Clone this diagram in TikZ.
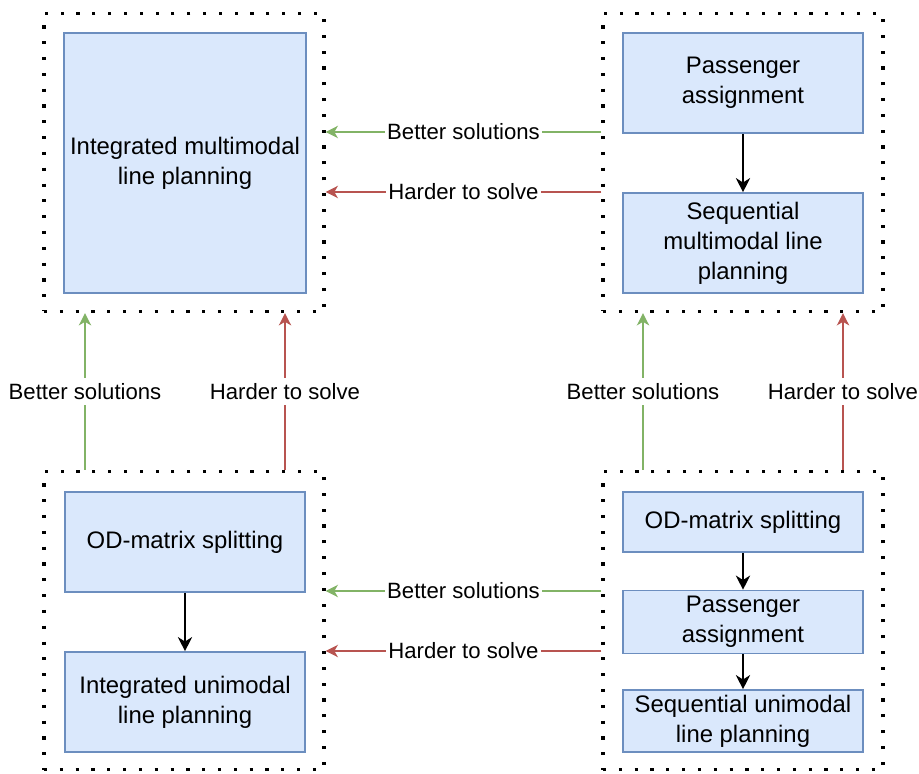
\documentclass[tikz,border=0pt]{standalone}
\usepackage{fontspec}
\setmainfont{Liberation Sans}
\usepackage{xcolor}
\usepackage{tikz}
\usetikzlibrary{shapes,arrows,arrows.meta,positioning,calc}
\definecolor{boxfill}{HTML}{DAE8FC}
\definecolor{boxline}{HTML}{6C8EBF}
\definecolor{goodgreen}{HTML}{82B366}
\definecolor{hardred}{HTML}{B85450}

\begin{document}
\begin{tikzpicture}[
  font=\fontsize{12.6}{16}\selectfont,
  group/.style={draw, line width=1.8pt, dash pattern=on 1.8pt off 7.2pt, minimum width=5.6cm, minimum height=5.96cm},
  stage/.style={draw=boxline, fill=boxfill, line width=0.9pt, minimum width=4.8cm, align=center, font=\fontsize{13.6}{17}\selectfont},
  better/.style={draw=goodgreen, line width=0.9pt, -{Stealth[length=7pt,width=7pt,inset=2pt,fill=goodgreen]}},
  harder/.style={draw=hardred, line width=0.9pt, -{Stealth[length=7pt,width=7pt,inset=2pt,fill=hardred]}},
  flow/.style={line width=1.4pt, -{Stealth[length=8pt,width=8pt,inset=2.5pt]}},
  lbl/.style={fill=white, inner sep=1.5pt}
]
  \useasboundingbox (0,0) rectangle (18.38,15.46);

  % Groups
  \node[group] (tl) at (3.68,12.21) {};
  \node[group] (tr) at (14.86,12.21) {};
  \node[group] (bl) at (3.68,3.05) {};
  \node[group] (br) at (14.86,3.05) {};

  % Integrated multimodal
  \node[stage, minimum height=5.2cm] (intmulti) at (3.70,12.2) {Integrated multimodal\\line planning};

  % Sequential multimodal
  \node[stage, minimum height=2cm] (passtop) at (14.86,13.8) {Passenger\\assignment};
  \node[stage, minimum height=2cm] (seqmulti) at (14.86,10.6) {Sequential\\multimodal line\\planning};
  \draw[flow] (passtop) -- (seqmulti);

  % Integrated unimodal
  \node[stage, minimum height=2cm] (odleft) at (3.70,4.62) {OD-matrix splitting};
  \node[stage, minimum height=2cm] (intuni) at (3.70,1.42) {Integrated unimodal\\line planning};
  \draw[flow] (odleft) -- (intuni);

  % Sequential unimodal
  \node[stage, minimum height=1.2cm] (odright) at (14.86,5.02) {OD-matrix splitting};
  \node[stage, minimum height=1.2cm] (passbot) at (14.86,3.02) {Passenger\\assignment};
  \node[stage, minimum height=1.24cm, inner sep=1pt] (sequni) at (14.86,1.04) {Sequential unimodal\\line planning};
  \draw[flow] (odright) -- (passbot);
  \draw[flow] (passbot) -- (sequni);

  % Horizontal comparisons
  \draw[better] (tr.west |- 0,12.82) -- (tl.east |- 0,12.82) node[midway, lbl] {Better solutions};
  \draw[harder] (tr.west |- 0,11.62) -- (tl.east |- 0,11.62) node[midway, lbl] {Harder to solve};
  \draw[better] (br.west |- 0,3.64) -- (bl.east |- 0,3.64) node[midway, lbl] {Better solutions};
  \draw[harder] (br.west |- 0,2.44) -- (bl.east |- 0,2.44) node[midway, lbl] {Harder to solve};

  % Vertical comparisons
  \draw[better] (bl.north -| 1.70,0) -- (tl.south -| 1.70,0) node[midway, lbl, inner sep=3pt] {Better solutions};
  \draw[harder] (bl.north -| 5.70,0) -- (tl.south -| 5.70,0) node[midway, lbl, inner sep=3pt] {Harder to solve};
  \draw[better] (br.north -| 12.86,0) -- (tr.south -| 12.86,0) node[midway, lbl, inner sep=3pt] {Better solutions};
  \draw[harder] (br.north -| 16.86,0) -- (tr.south -| 16.86,0) node[midway, lbl, inner sep=3pt] {Harder to solve};
\end{tikzpicture}
\end{document}
